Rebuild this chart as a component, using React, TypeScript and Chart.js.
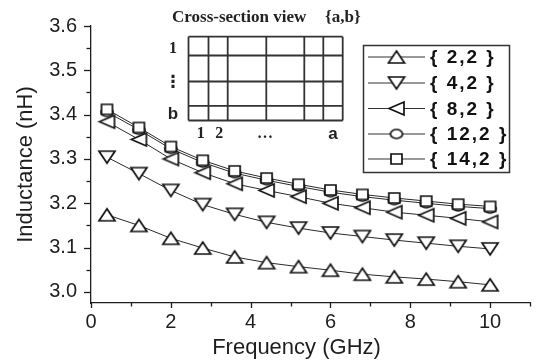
import React, { useEffect, useRef } from 'react';
import { Chart, registerables } from 'chart.js';
Chart.register(...registerables);

// ---- data ----
const freqGHz = [0.4, 1.2, 2.0, 2.8, 3.6, 4.4, 5.2, 6.0, 6.8, 7.6, 8.4, 9.2, 10.0];
const ind_2_2 = [3.174, 3.150, 3.121, 3.099, 3.079, 3.066, 3.057, 3.049, 3.040, 3.034, 3.029, 3.023, 3.016];
const ind_4_2 = [3.304, 3.267, 3.229, 3.197, 3.175, 3.157, 3.144, 3.133, 3.125, 3.117, 3.110, 3.103, 3.097];
const ind_8_2 = [3.384, 3.344, 3.300, 3.269, 3.244, 3.229, 3.215, 3.200, 3.190, 3.180, 3.173, 3.166, 3.158];
const ind_12_2 = [3.406, 3.366, 3.323, 3.292, 3.268, 3.252, 3.238, 3.225, 3.215, 3.207, 3.200, 3.193, 3.188];
const ind_14_2 = [3.412, 3.371, 3.328, 3.297, 3.273, 3.257, 3.243, 3.230, 3.220, 3.212, 3.205, 3.198, 3.193];
const seriesLabels = ['{ 2,2 }', '{ 4,2 }', '{ 8,2 }', '{ 12,2 }', '{ 14,2 }'];
const seriesMarkers = ['up', 'down', 'left', 'circle', 'square'];

const xTickLabels = ['0', '2', '4', '6', '8', '10'];
const xMinorTicks = [1, 3, 5, 7, 9, 11];
const yTickLabels = ['3.0', '3.1', '3.2', '3.3', '3.4', '3.5', '3.6'];
const yMinorTicks = [3.05, 3.15, 3.25, 3.35, 3.45, 3.55];

const xTitle = 'Frequency (GHz)';
const yTitle = 'Inductance (nH)';
const insetTitle = 'Cross-section view';
const insetBraces = '{a,b}';
const insetRowLabels = ['1', '\u22EE', 'b'];
const insetColLabels = ['1', '2', '\u2026', 'a'];

const SANS = '"Liberation Sans", Arial, Helvetica, sans-serif';
const SERIF = '"Liberation Serif", "Times New Roman", serif';
const INK = '#1e1e1e';

function makeMarker(kind: string): HTMLCanvasElement {
  const dims: Record<string, [number, number]> = {
    up: [16, 12], down: [16, 12], left: [15, 13], circle: [12, 9], square: [11, 10],
  };
  const [w, h] = dims[kind];
  const c = document.createElement('canvas');
  c.width = w + 4;
  c.height = h + 4;
  const ctx = c.getContext('2d')!;
  const cx = c.width / 2, cy = c.height / 2;
  ctx.beginPath();
  if (kind === 'up') {
    ctx.moveTo(cx, cy - h / 2); ctx.lineTo(cx + w / 2, cy + h / 2); ctx.lineTo(cx - w / 2, cy + h / 2); ctx.closePath();
  } else if (kind === 'down') {
    ctx.moveTo(cx, cy + h / 2); ctx.lineTo(cx + w / 2, cy - h / 2); ctx.lineTo(cx - w / 2, cy - h / 2); ctx.closePath();
  } else if (kind === 'left') {
    ctx.moveTo(cx - w / 2, cy); ctx.lineTo(cx + w / 2, cy - h / 2); ctx.lineTo(cx + w / 2, cy + h / 2); ctx.closePath();
  } else if (kind === 'circle') {
    ctx.ellipse(cx, cy, w / 2, h / 2, 0, 0, Math.PI * 2);
  } else {
    ctx.rect(cx - w / 2, cy - h / 2, w, h);
  }
  ctx.fillStyle = '#fff';
  ctx.fill();
  ctx.lineWidth = 1.7;
  ctx.lineJoin = 'miter';
  ctx.strokeStyle = '#111';
  ctx.stroke();
  return c;
}

export default function App() {
  const ref = useRef<HTMLCanvasElement>(null);
  useEffect(() => {
    const canvas = ref.current!;
    const markers = seriesMarkers.map(makeMarker);
    const series = [ind_2_2, ind_4_2, ind_8_2, ind_12_2, ind_14_2];

    const decor = {
      id: 'decor',
      afterDraw(chart: any) {
        const ctx: CanvasRenderingContext2D = chart.ctx;
        const xs = chart.scales.x, ys = chart.scales.y;
        const { left, bottom } = chart.chartArea;
        ctx.save();
        ctx.strokeStyle = INK;
        ctx.lineWidth = 1.3;
        // y ticks
        yTickLabels.forEach((t) => {
          const py = Math.round(ys.getPixelForValue(parseFloat(t))) + 0.5;
          ctx.beginPath(); ctx.moveTo(left - 7, py); ctx.lineTo(left, py); ctx.stroke();
        });
        yMinorTicks.forEach((v) => {
          const py = Math.round(ys.getPixelForValue(v)) + 0.5;
          ctx.beginPath(); ctx.moveTo(left - 4.5, py); ctx.lineTo(left, py); ctx.stroke();
        });
        // x ticks
        xTickLabels.forEach((t) => {
          const px = Math.round(xs.getPixelForValue(parseFloat(t))) + 0.5;
          ctx.beginPath(); ctx.moveTo(px, bottom); ctx.lineTo(px, bottom + 5); ctx.stroke();
        });
        xMinorTicks.forEach((v) => {
          const px = Math.round(xs.getPixelForValue(v)) + 0.5;
          ctx.beginPath(); ctx.moveTo(px, bottom); ctx.lineTo(px, bottom + 3.5); ctx.stroke();
        });
        // x title
        ctx.fillStyle = INK;
        ctx.font = `22px ${SANS}`;
        ctx.textAlign = 'center';
        ctx.textBaseline = 'middle';
        ctx.fillText(xTitle, 296.5, 348);

        // legend
        ctx.lineWidth = 1.5;
        ctx.strokeStyle = '#333';
        ctx.strokeRect(363.5, 45.5, 146, 127);
        const rowY = [57, 83, 108.5, 134, 159];
        ctx.font = `bold 19px ${SANS}`;
        (ctx as any).letterSpacing = '2px';
        ctx.textAlign = 'left';
        ctx.textBaseline = 'middle';
        seriesLabels.forEach((lab, i) => {
          const y = rowY[i];
          ctx.lineWidth = 1.2;
          ctx.strokeStyle = '#333';
          ctx.beginPath(); ctx.moveTo(368, y); ctx.lineTo(425, y); ctx.stroke();
          const m = markers[i];
          ctx.drawImage(m, 396.5 - m.width / 2, y - m.height / 2);
          ctx.fillStyle = '#111';
          ctx.fillText(lab, 430, y + 1);
        });
        (ctx as any).letterSpacing = '0px';

        // inset cross-section view
        ctx.fillStyle = '#222';
        ctx.font = `bold 17px ${SERIF}`;
        ctx.textAlign = 'left';
        ctx.textBaseline = 'alphabetic';
        ctx.fillText(insetTitle, 172, 21.5);
        ctx.fillText(insetBraces, 325, 21.5);
        const gx = [188.5, 208.5, 227.7, 266.3, 304.3, 323.3, 342.7];
        const gy = [36.7, 55.5, 81.5, 105.8, 120.5];
        ctx.strokeStyle = '#333';
        ctx.lineWidth = 1.8;
        gx.forEach((x) => { ctx.beginPath(); ctx.moveTo(x, gy[0]); ctx.lineTo(x, gy[gy.length - 1]); ctx.stroke(); });
        gy.forEach((y) => { ctx.beginPath(); ctx.moveTo(gx[0], y); ctx.lineTo(gx[gx.length - 1], y); ctx.stroke(); });
        ctx.textAlign = 'center';
        ctx.textBaseline = 'middle';
        ctx.font = `bold 16px ${SERIF}`;
        ctx.fillText(insetRowLabels[0], 173, 49);
        ctx.font = `bold 17px "DejaVu Sans", sans-serif`;
        ctx.fillText(insetRowLabels[1], 173, 83);
        ctx.font = `bold 17px ${SANS}`;
        ctx.fillText(insetRowLabels[2], 173, 114);
        ctx.font = `bold 16px ${SERIF}`;
        ctx.fillText(insetColLabels[0], 200.7, 134);
        ctx.fillText(insetColLabels[1], 219.3, 134);
        ctx.fillText(insetColLabels[2], 265, 134);
        ctx.font = `bold 17px ${SANS}`;
        ctx.fillText(insetColLabels[3], 333, 134);
        ctx.restore();
      },
    };

    const chart = new Chart(canvas, {
      type: 'line',
      data: {
        datasets: series.map((vals, i) => ({
          label: seriesLabels[i],
          data: freqGHz.map((f, j) => ({ x: f, y: vals[j] })),
          borderColor: '#2a2a2a',
          borderWidth: 1,
          pointStyle: markers[i] as any,
          pointRadius: 6,
          pointHoverRadius: 6,
          order: 4 - i,
          fill: false,
          tension: 0,
        })),
      },
      options: {
        animation: false,
        responsive: false,
        devicePixelRatio: 1,
        events: [],
        layout: { padding: { left: 0, top: 14, right: 4, bottom: 0 } },
        plugins: { legend: { display: false }, tooltip: { enabled: false } },
        scales: {
          x: {
            type: 'linear',
            min: 0,
            max: 11,
            grid: { display: false, drawTicks: false },
            border: { display: true, color: INK, width: 1.3 },
            afterBuildTicks: (s: any) => {
              s.ticks = xTickLabels.map((t) => ({ value: parseFloat(t) }));
            },
            ticks: {
              autoSkip: false,
              maxRotation: 0,
              padding: 7,
              color: INK,
              font: { family: SANS, size: 20 },
              callback: (v: any) => {
                const lab = xTickLabels.find((t) => Math.abs(parseFloat(t) - v) < 1e-6);
                return lab ?? '';
              },
            },
            afterFit: (s: any) => { s.height = 59; },
          },
          y: {
            type: 'linear',
            min: 2.975,
            max: 3.6,
            grid: { display: false, drawTicks: false },
            border: { display: true, color: INK, width: 1.3 },
            afterBuildTicks: (s: any) => {
              s.ticks = yTickLabels.map((t) => ({ value: parseFloat(t) }));
            },
            ticks: {
              autoSkip: false,
              padding: 14,
              color: INK,
              font: { family: SANS, size: 20 },
              callback: (v: any) => {
                const lab = yTickLabels.find((t) => Math.abs(parseFloat(t) - v) < 1e-6);
                return lab ?? '';
              },
            },
            title: {
              display: true,
              text: yTitle,
              color: INK,
              font: { family: SANS, size: 22, lineHeight: 1.2 },
              padding: { top: 13, bottom: 0 },
            },
            afterFit: (s: any) => { s.width = 91; },
          },
        },
      },
      plugins: [decor],
    });
    return () => chart.destroy();
  }, []);

  return (
    <div style={{ position: 'fixed', left: 0, top: 0, width: 537, height: 362, background: '#fff' }}>
      <canvas ref={ref} width={537} height={362} style={{ display: 'block' }} />
    </div>
  );
}
